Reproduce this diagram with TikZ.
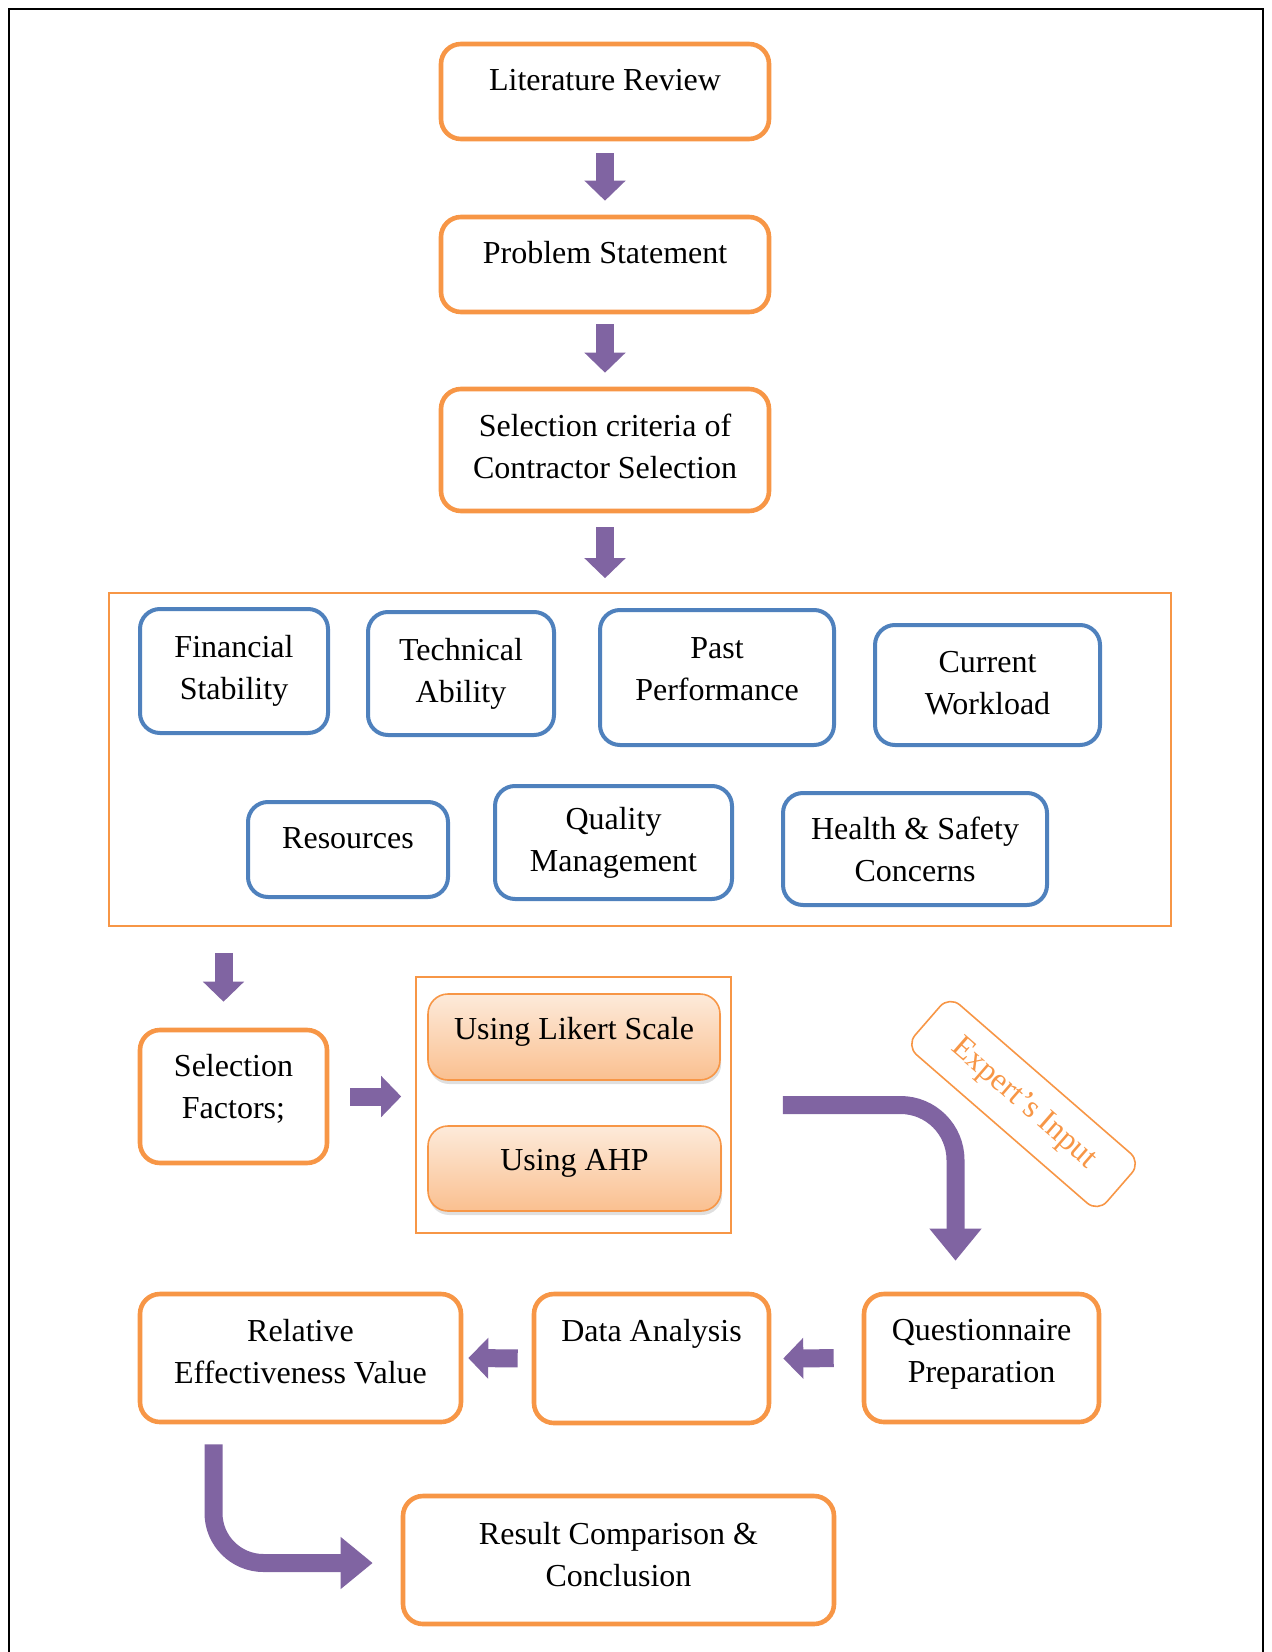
\documentclass[tikz,border=0pt]{standalone}
\usepackage{fontspec}
\setmainfont{Liberation Serif}
\usetikzlibrary{arrows.meta, calc, shadows}
\definecolor{flowOrange}{HTML}{F79646}
\definecolor{flowBlue}{HTML}{4F81BD}
\definecolor{flowPurple}{HTML}{8064A2}
\definecolor{flowPeach}{HTML}{FDEADA}
\definecolor{flowApricot}{HTML}{FAC090}
\tikzset{
  boxO/.style={rectangle, rounded corners=10pt, draw=flowOrange, line width=2.3pt,
               fill=white, align=center, inner sep=2pt},
  boxB/.style={rectangle, rounded corners=10pt, draw=flowBlue, line width=2pt,
               fill=white, align=center, inner sep=2pt},
  boxShade/.style={rectangle, rounded corners=10pt, draw=flowOrange, line width=0.8pt,
                   top color=flowPeach, bottom color=flowApricot, align=center,
                   text height=11pt, text depth=9pt,
                   drop shadow={opacity=0.25, shadow xshift=0.6pt, shadow yshift=-2pt}},
  frameO/.style={rectangle, draw=flowOrange, line width=0.8pt},
  arrowP/.style={-{Triangle[length=10pt, width=20pt]}, flowPurple, line width=9pt},
  arrowBend/.style={-{Triangle[length=16pt, width=25pt]}, flowPurple, line width=9pt},
  liftA/.style={text height=11pt, text depth=12pt},
  liftB/.style={text height=11pt, text depth=28pt},
  liftM/.style={text depth=#1},
}

\begin{document}
\begin{tikzpicture}[x=0.5pt, y=-0.5pt, font=\fontsize{16}{21}\selectfont]
  \useasboundingbox (0,0) rectangle (1272,1652);
  % page frame, open at the bottom
  \draw[line width=1.3pt] (9,1652) -- (9,9) -- (1263,9) -- (1263,1652);

  % main column
  \node[boxO, liftA, minimum width=164pt, minimum height=47.5pt] (lit) at (605,91.5) {Literature Review};
  \node[boxO, liftA, minimum width=164pt, minimum height=47.5pt] (prob) at (605,264.5) {Problem Statement};
  \node[boxO, liftM=4.2pt, minimum width=164pt, minimum height=61pt] (crit) at (605,450)
    {Selection criteria of\\Contractor Selection};

  % criteria group
  \node[frameO, minimum width=531pt, minimum height=166.5pt] (frame) at (640,759.5) {};
  \node[boxB, minimum width=94pt, minimum height=62pt] (fin) at (234,671) {Financial\\Stability};
  \node[boxB, minimum width=93pt, minimum height=61.5pt] (tech) at (461,673.5) {Technical\\Ability};
  \node[boxB, liftM=8.4pt, minimum width=117pt, minimum height=67.5pt] (past) at (717,677.5) {Past\\Performance};
  \node[boxB, liftM=2pt, minimum width=112.5pt, minimum height=60pt] (curr) at (987.5,685) {Current\\Workload};
  \node[boxB, liftA, minimum width=100pt, minimum height=47.5pt] (res) at (348,849.5) {Resources};
  \node[boxB, minimum width=118.5pt, minimum height=56.5pt] (qual) at (613.5,842.5) {Quality\\Management};
  \node[boxB, minimum width=132pt, minimum height=56pt] (hs) at (915,849) {Health \& Safety\\Concerns};

  % factors and methods
  \node[boxO, liftM=10pt, minimum width=93.5pt, minimum height=66.5pt] (sel) at (233.5,1096.5) {Selection\\Factors;};
  \node[frameO, minimum width=157.5pt, minimum height=128pt] (grp) at (573.5,1105) {};
  \node[boxShade, minimum width=146pt, minimum height=43pt] (lik) at (574,1037) {Using Likert Scale};
  \node[boxShade, minimum width=146.5pt, minimum height=42.5pt] (ahp) at (574.5,1168.5) {Using AHP};
  \node[rectangle, rounded corners=7pt, draw=flowOrange, line width=0.8pt, text=flowOrange,
        rotate=-41, minimum width=127pt, minimum height=33pt] (expert) at (1023.5,1104) {Expert’s Input};

  % analysis row
  \node[boxO, liftM=6.7pt, minimum width=117.5pt, minimum height=64pt] (quest) at (981.5,1358) {Questionnaire\\Preparation};
  \node[boxO, liftB, minimum width=117.5pt, minimum height=64.5pt] (data) at (651.5,1358.5) {Data Analysis};
  \node[boxO, liftM=6.3pt, minimum width=160.5pt, minimum height=64pt] (rel) at (300.5,1358)
    {Relative\\Effectiveness Value};
  \node[boxO, liftM=5.3pt, minimum width=215.5pt, minimum height=64pt] (result) at (618.5,1560)
    {Result Comparison \&\\Conclusion};

  % arrows
  \draw[arrowP, shorten <=6pt, shorten >=7pt] (lit) -- (prob);
  \draw[arrowP, shorten <=5pt, shorten >=7pt] (prob) -- (crit);
  \draw[arrowP, shorten <=7pt, shorten >=7pt] (crit.south) -- (crit.south |- frame.north);
  \draw[arrowP, shorten <=13pt, shorten >=13pt]
    ($(sel.north |- frame.south)+(-10,0)$) -- ($(sel.north)+(-10,0)$);
  \draw[arrowP, shorten <=10.5pt, shorten >=7pt] (sel.east) -- (sel.east -| grp.west);
  \draw[arrowBend, rounded corners=27.5pt]
    ($(grp.east)+(51,0)$) -| ($(quest.north)+(-26,-31)$);
  \draw[arrowP, shorten <=14pt, shorten >=6pt] (quest.west) -- (data.east);
  \draw[arrowP, shorten <=7pt, shorten >=2.5pt] (data.west) -- (rel.east);
  \draw[arrowBend, rounded corners=25pt]
    ($(rel.south)+(-87,20)$) |- ($(result.west)+(-28,3)$);
\end{tikzpicture}
\end{document}
